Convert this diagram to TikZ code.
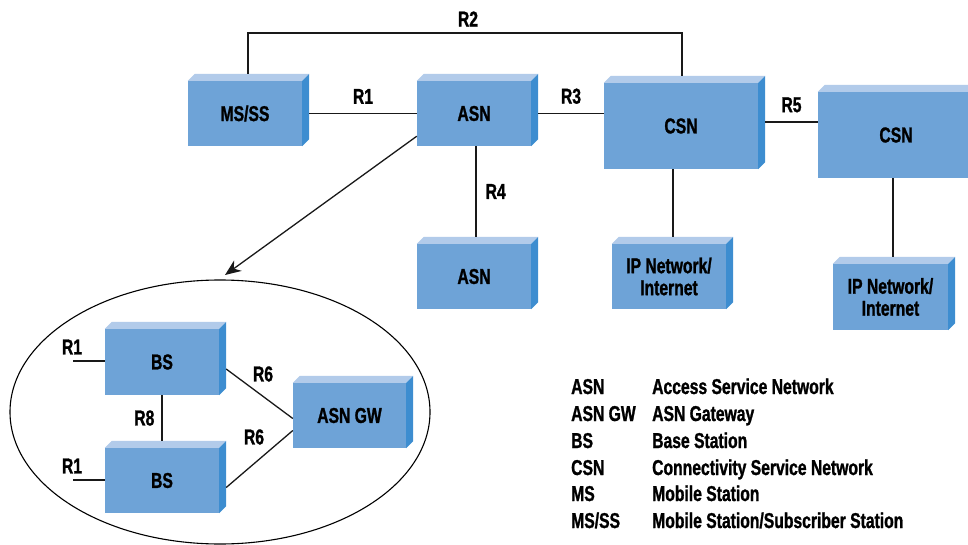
\documentclass[tikz,border=0pt]{standalone}
\usepackage{fontspec}
\setmainfont{Liberation Sans}[FakeStretch=0.73, BoldFeatures={FakeBold=1.2}]
\usetikzlibrary{arrows.meta}

\definecolor{boxfront}{HTML}{6EA3D7}
\definecolor{boxtop}{HTML}{B2CBEA}
\definecolor{boxside}{HTML}{3D8DD0}

\tikzset{
  txt/.style={font=\fontsize{21.5}{22}\selectfont\bfseries, inner sep=0pt},
  blk/.style={txt, fill=boxfront, align=center},
  wire/.style={draw=black!90, line width=1.3pt},
}

% light top face and dark right face of a block, 7 units deep
\newcommand\blockfaces[1]{%
  \fill[boxtop] (#1.north west) -- ++(7,-7) -- ([shift={(7,-7)}]#1.north east)
    -- (#1.north east) -- cycle;
  \fill[boxside] (#1.north east) -- ++(7,-7) -- ([shift={(7,-7)}]#1.south east)
    -- (#1.south east) -- cycle;}

\begin{document}
\begin{tikzpicture}[x=1pt, y=-1pt]
\useasboundingbox (0,0) rectangle (968,545);
\clip (0,0) rectangle (968,545);

% blocks
\node[blk, minimum width=114pt, minimum height=65pt] (ms)   at (245,113.5) {MS/SS};
\node[blk, minimum width=114pt, minimum height=65pt] (asn1) at (474,113.5) {ASN};
\node[blk, minimum width=154pt, minimum height=86pt] (csn1) at (681,126)   {CSN};
\node[blk, minimum width=156pt, minimum height=86pt] (csn2) at (896,135)   {CSN};
\node[blk, minimum width=114pt, minimum height=65pt] (asn2) at (474,276.5) {ASN};
\node[blk, minimum width=114pt, minimum height=65pt] (ip1)  at (669,276.5) {IP Network/\\Internet};
\node[blk, minimum width=115pt, minimum height=66pt] (ip2)  at (890.5,297) {IP Network/\\Internet};
\node[blk, minimum width=114pt, minimum height=66pt] (bs1)  at (162,362)   {BS};
\node[blk, minimum width=114pt, minimum height=65pt] (bs2)  at (162,480.5) {BS};
\node[blk, minimum width=113pt, minimum height=65pt] (gw)   at (349.5,415.5) {ASN GW};
\foreach \b in {ms,asn1,csn1,csn2,asn2,ip1,ip2,bs1,bs2,gw} {\blockfaces{\b}}

% reference points R1..R8
\draw[wire] ([xshift=7pt]ms.east) -- node[txt, above=9pt] {R1} (asn1.west);
\draw[wire] ([xshift=7pt]asn1.east) -- node[txt, above=9pt] {R3} (asn1.east -| csn1.west);
\draw[wire] ([xshift=7pt,yshift=4pt]csn1.east) -- node[txt, above=9pt] {R5}
  ([yshift=4pt]csn1.east -| csn2.west);
\coordinate (r2corner) at (682,33);
\draw[wire] ([xshift=3pt,yshift=7pt]ms.north) |- (r2corner) -- ([xshift=1pt,yshift=7pt]csn1.north);
\node[txt] (r2) at (468,19) {R2};
\draw[wire] ([xshift=2pt]asn1.south) -- node[txt, right=9pt] {R4} ([xshift=2pt,yshift=7pt]asn2.north);
\draw[wire] ([xshift=-8pt]csn1.south) -- ([xshift=-8pt,yshift=7pt]csn1.south |- ip1.north);
\draw[wire] ([xshift=-3pt]csn2.south) -- ([xshift=-3pt,yshift=7pt]csn2.south |- ip2.north);

% zoom into the access service network
\coordinate (zoomtip) at (225,275);
\draw[wire, -{Stealth[length=16pt, width=13pt]}] ([yshift=10pt]asn1.south west) -- (zoomtip);
\draw[line width=1.1pt] (220,412) ellipse [x radius=210pt, y radius=132pt];

\coordinate (r1a) at (73,361);
\coordinate (r1b) at (73,480);
\draw[wire] (r1a) -- (r1a -| bs1.west);
\draw[wire] (r1b) -- (r1b -| bs2.west);
\node[txt] at (72,347) {R1};
\node[txt] at (72,466) {R1};
\draw[wire] (bs1.south) -- node[txt, left=7pt] {R8} ([yshift=7pt]bs2.north);
\draw[wire] ([xshift=7pt,yshift=-7pt]bs1.east) -- ([yshift=-3pt]gw.west);
\draw[wire] ([xshift=7pt,yshift=-7pt]bs2.east) -- ([yshift=-15pt]gw.west);
\node[txt] at (263,374) {R6};
\node[txt] at (254,437) {R6};

% abbreviations
\foreach \y/\a/\b in {394/ASN/Access Service Network,
                      421/ASN GW/ASN Gateway,
                      448/BS/Base Station,
                      475/CSN/Connectivity Service Network,
                      501/MS/Mobile Station,
                      528/MS\slash SS/Mobile Station\slash Subscriber Station} {
  \node[txt, anchor=base west] at (571,\y) {\a};
  \node[txt, anchor=base west] at (652,\y) {\b};
}
\end{tikzpicture}
\end{document}
